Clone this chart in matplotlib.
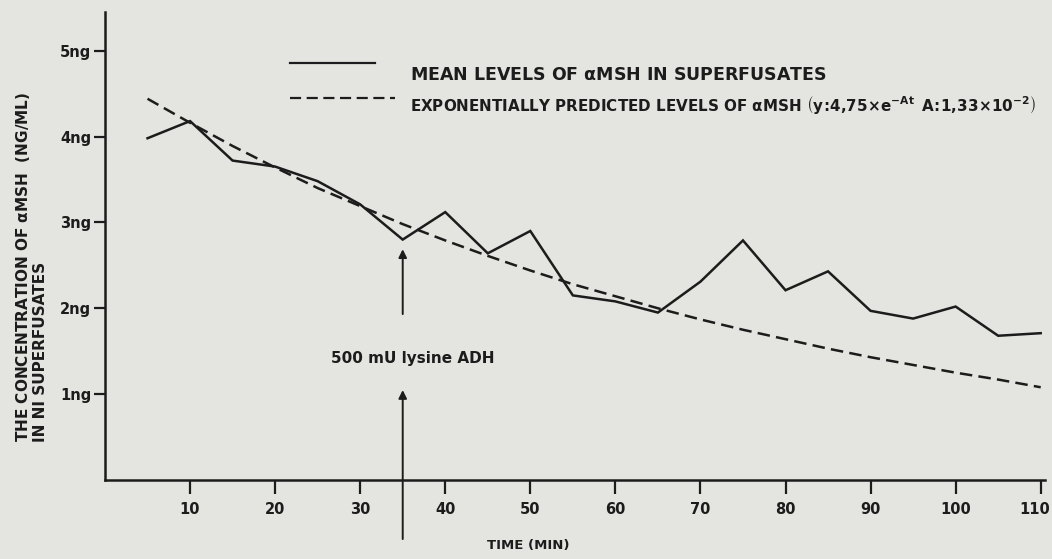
import matplotlib
matplotlib.use("Agg")
import matplotlib.pyplot as plt
from matplotlib.transforms import ScaledTranslation

plt.rcParams["mathtext.default"] = "regular"

# time (min) of each superfusate sample
time_min = [5, 10, 15, 20, 25, 30, 35, 40, 45, 50, 55, 60,
            65, 70, 75, 80, 85, 90, 95, 100, 105, 110]
# mean alpha-MSH level (ng/ml)
mean_levels = [3.98, 4.18, 3.72, 3.65, 3.48, 3.21, 2.80, 3.12, 2.64, 2.90, 2.15, 2.08,
               1.95, 2.31, 2.79, 2.21, 2.43, 1.97, 1.88, 2.02, 1.68, 1.71]
# exponentially predicted level (ng/ml)
predicted = [4.44, 4.16, 3.89, 3.64, 3.40, 3.19, 2.98, 2.79, 2.61, 2.44, 2.28, 2.14,
             2.00, 1.87, 1.75, 1.64, 1.53, 1.43, 1.34, 1.25, 1.17, 1.08]

x_ticks = [10, 20, 30, 40, 50, 60, 70, 80, 90, 100, 110]
y_ticks = [1, 2, 3, 4, 5]
y_tick_labels = ["1ng", "2ng", "3ng", "4ng", "5ng"]

paper = "#e4e4e0"
ink = "#1c1c1c"
font = dict(family="DejaVu Sans", weight="bold", color=ink)
dash = (0, (5, 2.5))

fig = plt.figure(figsize=(10.52, 5.59), dpi=100, facecolor=paper)
ax = fig.add_axes([0.0998, 0.1413, 0.8935, 0.8372])
ax.set_facecolor(paper)

ax.plot(time_min, mean_levels, color=ink, lw=1.8, solid_joinstyle="miter")
ax.plot(time_min, predicted, color=ink, lw=1.8, ls=dash)

ax.set_xlim(0, 110.5)
ax.set_ylim(0, 5.45)
for side in ("top", "right"):
    ax.spines[side].set_visible(False)
for side in ("left", "bottom"):
    ax.spines[side].set_color(ink)
    ax.spines[side].set_linewidth(1.8)

ax.set_xticks(x_ticks)
ax.set_xticklabels([str(t) for t in x_ticks], fontsize=10.5, **font)
ax.set_yticks(y_ticks)
ax.set_yticklabels(y_tick_labels, fontsize=10.5, **font)
ax.tick_params(axis="x", direction="out", length=10, width=1.6, color=ink, pad=6)
ax.tick_params(axis="y", direction="out", length=8, width=1.6, color=ink, pad=2)
# keep the last label inside the page
last = ax.get_xticklabels()[-1]
last.set_transform(last.get_transform() + ScaledTranslation(-6 / 100, 0, fig.dpi_scale_trans))

ax.set_xlabel("TIME (MIN)", fontsize=9.5, **font)
ax.xaxis.set_label_coords(0.45, -0.125)
fig.text(0.0295, 0.21,
         r"THE CONCENTRATION OF $\alpha$MSH  (NG/ML)" + "\n" + "IN NI SUPERFUSATES",
         rotation=90, ha="center", va="bottom", multialignment="left",
         fontsize=11, linespacing=1.05, **font)

# legend drawn by hand, as in the original
ax.plot([21.7, 31.7], [4.86, 4.86], color=ink, lw=1.6, clip_on=False)
ax.plot([21.7, 34.1], [4.45, 4.45], color=ink, lw=1.6, ls=dash, clip_on=False)
ax.text(35.8, 4.72, r"MEAN LEVELS OF $\alpha$MSH IN SUPERFUSATES",
        va="center", ha="left", fontsize=12.5, **font)
ax.text(35.8, 4.37,
        r"EXPONENTIALLY PREDICTED LEVELS OF $\alpha$MSH "
        r"$\left(y\!:\!4{,}75\!\times\! e^{-At}\;\;A\!:\!1{,}33\!\times\! 10^{-2}\right)$",
        va="center", ha="left", fontsize=10.9, **font)

# injection marker
ax.annotate("", xy=(35, 2.72), xytext=(35, 1.9),
            arrowprops=dict(arrowstyle="-|>", color=ink, lw=1.4, mutation_scale=12))
ax.annotate("", xy=(35, 1.08), xytext=(35, -0.72), annotation_clip=False,
            arrowprops=dict(arrowstyle="-|>", color=ink, lw=1.4, mutation_scale=12))
ax.text(36.2, 1.41, "500 mU lysine ADH", ha="center", va="center", fontsize=11, **font)

fig.savefig("out.png", dpi=100, facecolor=paper)
